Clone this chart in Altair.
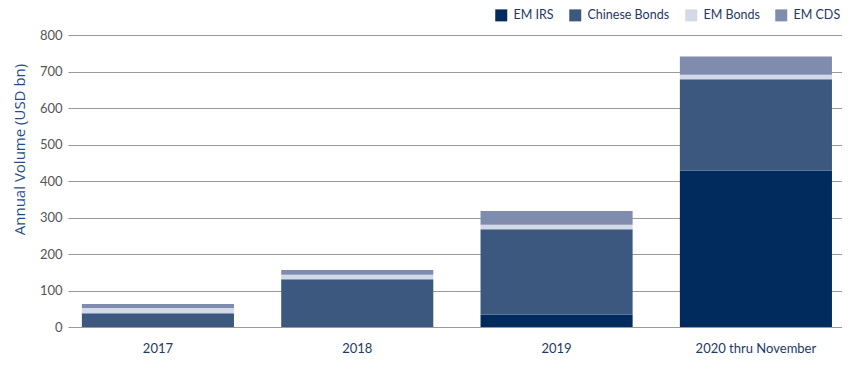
import altair as alt
import pandas as pd

years = ["2017", "2018", "2019", "2020 thru November"]
series = ["EM IRS", "Chinese Bonds", "EM Bonds", "EM CDS"]
em_irs = [0, 0, 34, 429]
chinese_bonds = [38, 131, 234, 250]
em_bonds = [14, 12, 12, 12]
em_cds = [11, 13, 38, 50]
colors = ["#002b5c", "#3d587e", "#d3d9e6", "#7f8cad"]

rows = []
for vals, s in zip([em_irs, chinese_bonds, em_bonds, em_cds], series):
    for y, v in zip(years, vals):
        rows.append({"year": y, "series": s, "value": v, "order": series.index(s)})
df = pd.DataFrame(rows)

font = "Lato"

chart = alt.Chart(df).mark_bar().encode(
    x=alt.X("year:N", sort=years, title=None,
            scale=alt.Scale(paddingInner=0.237, paddingOuter=0.06, align=0.58),
            axis=alt.Axis(labelAngle=0, labelColor="#1f3864", labelFontSize=13,
                          labelFont=font, labelPadding=15, ticks=False, domain=False)),
    y=alt.Y("value:Q", title="Annual Volume (USD bn)",
            scale=alt.Scale(domain=[0, 800]),
            axis=alt.Axis(values=list(range(0, 801, 100)), labelColor="#555555",
                          labelFontSize=13, labelFont=font, labelPadding=6,
                          ticks=False, domain=False, gridColor="#9a9a9a",
                          gridWidth=1, titleColor="#1f4e8c", titleFontSize=15,
                          titleFont="Open Sans", titleFontWeight="normal",
                          titleX=-49, titleY=114, titleAngle=270,
                          titleAlign="center", titleBaseline="middle")),
    color=alt.Color("series:N", sort=series,
                    scale=alt.Scale(domain=series, range=colors),
                    legend=alt.Legend(title=None, orient="none", direction="horizontal",
                                      legendX=427, legendY=-26, symbolType="square",
                                      symbolSize=144, symbolStrokeWidth=0,
                                      labelFont=font, labelFontSize=12.5,
                                      labelColor="#1f3864", labelOffset=6,
                                      columnPadding=15)),
    order=alt.Order("order:Q", sort="ascending"),
).properties(
    width=774, height=292,
    autosize=alt.AutoSizeParams(type="none"),
    padding={"left": 60, "top": 27, "right": 0, "bottom": 40},
).configure_view(stroke=None).configure_axisX(grid=False)

chart.save("out.html", embed_options={"renderer": "svg", "actions": False})
